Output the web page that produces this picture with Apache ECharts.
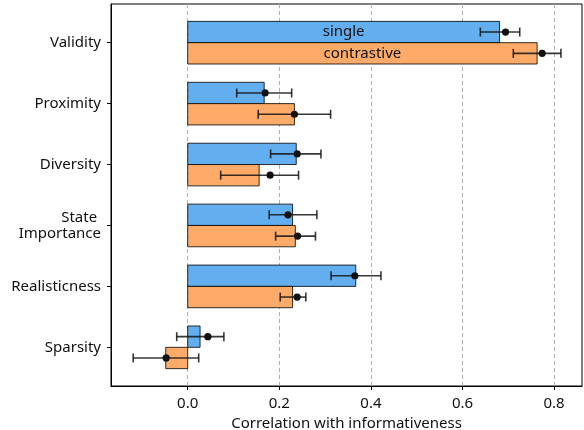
<!DOCTYPE html>
<html><head><meta charset="utf-8">
<script src="https://cdn.jsdelivr.net/npm/echarts@6/dist/echarts.min.js"></script>
<style>html,body{margin:0;padding:0;background:#fff}#c{width:584px;height:430px}</style>
</head><body><div id="c"></div>
<script>
const categories = ['Validity', 'Proximity', 'Diversity', 'State \nImportance', 'Realisticness', 'Sparsity'];
const xTicks = [0.0, 0.2, 0.4, 0.6, 0.8];
const singleBar = [0.681, 0.167, 0.237, 0.229, 0.367, 0.027];
const singleMean = [0.694, 0.169, 0.239, 0.219, 0.365, 0.044];
const singleLow = [0.639, 0.107, 0.181, 0.178, 0.313, -0.024];
const singleHigh = [0.725, 0.227, 0.291, 0.282, 0.422, 0.079];
const contrastBar = [0.763, 0.233, 0.156, 0.235, 0.229, -0.048];
const contrastMean = [0.774, 0.233, 0.180, 0.240, 0.239, -0.047];
const contrastLow = [0.711, 0.154, 0.072, 0.192, 0.202, -0.119];
const contrastHigh = [0.815, 0.312, 0.242, 0.279, 0.258, 0.024];
const seriesNames = ['single', 'contrastive'];

const FONT = 'Noto Sans';
const BLUE = '#62aeee';
const ORANGE = '#feaa68';
const HALF = 0.35;

function barSeries(vals, off, color, label) {
  return {
    type: 'custom', z: 3,
    data: vals.map((v, i) => [v, i]),
    renderItem: function (params, api) {
      const v = api.value(0), i = api.value(1);
      const a = api.coord([0, i + off - HALF / 2]);
      const b = api.coord([v, i + off + HALF / 2]);
      const x = Math.min(a[0], b[0]), y = Math.min(a[1], b[1]);
      const w = Math.abs(b[0] - a[0]), h = Math.abs(b[1] - a[1]);
      const children = [{
        type: 'rect', shape: { x: x, y: y, width: w, height: h },
        style: { fill: color, stroke: 'rgba(0,0,0,0.8)', lineWidth: 1 }
      }];
      if (i === 0) {
        children.push({
          type: 'text', z2: 10,
          style: { x: x + w / 2, y: y + h / 2, text: label, align: 'center', verticalAlign: 'middle',
            fontFamily: FONT, fontSize: 15, fill: '#111' }
        });
      }
      return { type: 'group', children: children };
    }
  };
}

function errSeries(means, lows, highs, off) {
  return {
    type: 'custom', z: 5,
    data: means.map((m, i) => [m, i, lows[i], highs[i]]),
    renderItem: function (params, api) {
      const m = api.value(0), i = api.value(1), lo = api.value(2), hi = api.value(3);
      const pl = api.coord([lo, i + off]);
      const ph = api.coord([hi, i + off]);
      const pm = api.coord([m, i + off]);
      const cap = 4.5;
      const st = { stroke: 'rgba(20,20,20,0.85)', lineWidth: 1.6 };
      return { type: 'group', children: [
        { type: 'line', shape: { x1: pl[0], y1: pl[1], x2: ph[0], y2: ph[1] }, style: st },
        { type: 'line', shape: { x1: pl[0], y1: pl[1] - cap, x2: pl[0], y2: pl[1] + cap }, style: st },
        { type: 'line', shape: { x1: ph[0], y1: ph[1] - cap, x2: ph[0], y2: ph[1] + cap }, style: st },
        { type: 'circle', shape: { cx: pm[0], cy: pm[1], r: 3.6 }, style: { fill: '#111' } }
      ]};
    }
  };
}

const chart = echarts.init(document.getElementById('c'));
chart.setOption({
  animation: false,
  grid: { left: 111, right: 2, top: 4, bottom: 44, show: true, borderColor: '#000', borderWidth: 1, containLabel: false, outerBoundsMode: 'none' },
  xAxis: {
    type: 'value', min: -0.1675, max: 0.861,
    name: 'Correlation with informativeness', nameLocation: 'middle', nameGap: 29,
    nameTextStyle: { fontFamily: FONT, fontSize: 15, color: '#111' },
    axisLine: { show: true, onZero: false, lineStyle: { color: '#000' } },
    axisTick: { show: true, length: 4, inside: false, customValues: xTicks, lineStyle: { color: '#000' } },
    axisLabel: { customValues: xTicks, formatter: v => v.toFixed(1), fontFamily: FONT, fontSize: 15, color: '#111', margin: 10 },
    splitLine: { show: true, lineStyle: { type: [4, 3], color: '#b0b0b0', width: 1 } }
  },
  yAxis: {
    type: 'value', inverse: true, min: -0.635, max: 5.635,
    axisLine: { show: true, onZero: false, lineStyle: { color: '#000' } },
    axisTick: { show: true, length: 4, customValues: [0, 1, 2, 3, 4, 5], lineStyle: { color: '#000' } },
    axisLabel: { customValues: [0, 1, 2, 3, 4, 5], formatter: v => categories[Math.round(v)], fontFamily: FONT, fontSize: 15, color: '#111', margin: 10, lineHeight: 16, align: 'right' },
    splitLine: { show: false }
  },
  series: [
    barSeries(singleBar, -HALF / 2, BLUE, seriesNames[0]),
    barSeries(contrastBar, HALF / 2, ORANGE, seriesNames[1]),
    errSeries(singleMean, singleLow, singleHigh, -HALF / 2),
    errSeries(contrastMean, contrastLow, contrastHigh, HALF / 2)
  ]
});
</script></body></html>
